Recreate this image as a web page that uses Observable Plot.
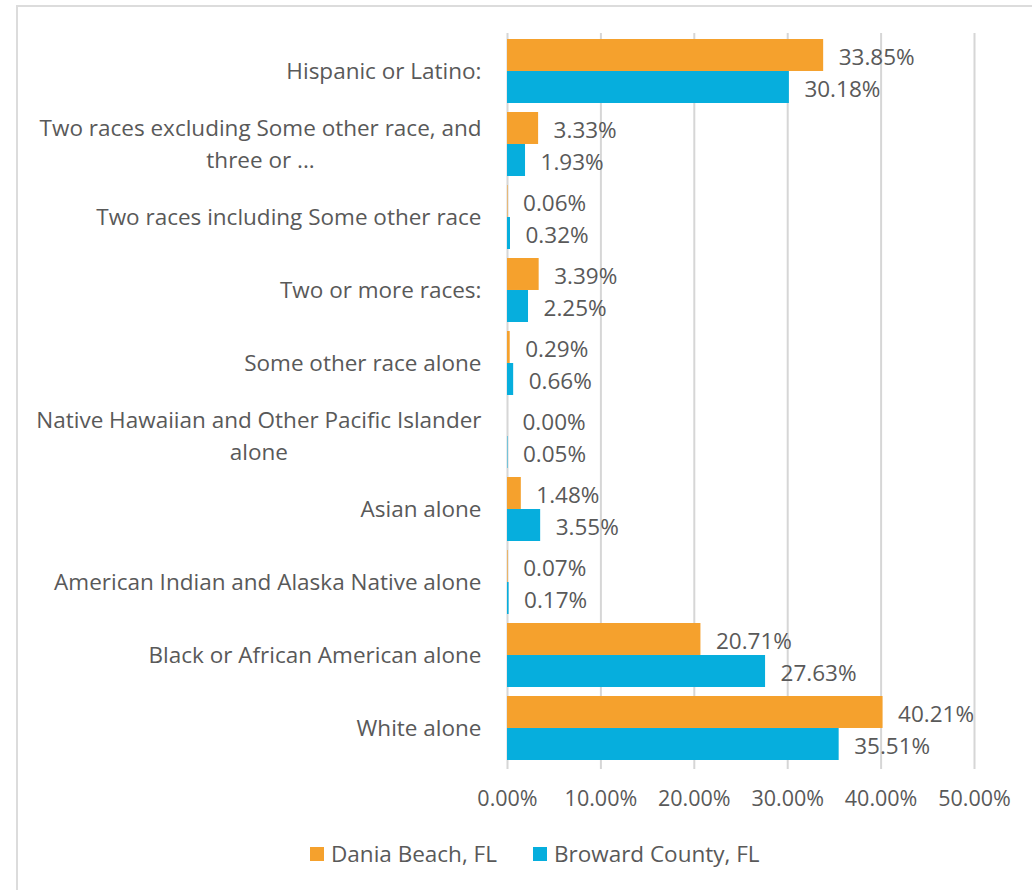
<!DOCTYPE html>
<html>
<head>
<meta charset="utf-8">
<script src="https://cdn.jsdelivr.net/npm/d3@7"></script>
<script src="https://cdn.jsdelivr.net/npm/@observablehq/plot@0.6"></script>
<style>
  html, body { margin: 0; padding: 0; background: #fff; }
  #wrap { position: relative; width: 1032px; height: 890px; overflow: hidden; font-family: "Open Sans", sans-serif; }
  #frame { position: absolute; left: 16px; top: 5px; width: 1100px; height: 1000px; border-left: 2px solid #dcdcdc; border-top: 2px solid #dcdcdc; box-sizing: border-box; }
  #chart { position: absolute; left: 0; top: 0; }
  #legend { position: absolute; left: 310px; top: 838px; display: flex; gap: 36px; font-size: 22.5px; color: #595959; }
  .item { display: flex; align-items: center; gap: 7px; }
  .sw { width: 14px; height: 14px; display: inline-block; }
</style>
</head>
<body>
<div id="wrap">
  <div id="frame"></div>
  <div id="chart"></div>
  <div id="legend"></div>
</div>
<script>
const categories = [
  "Hispanic or Latino:",
  "Two races excluding Some other race, and three or ...",
  "Two races including Some other race",
  "Two or more races:",
  "Some other race alone",
  "Native Hawaiian and Other Pacific Islander alone",
  "Asian alone",
  "American Indian and Alaska Native alone",
  "Black or African American alone",
  "White alone"
];
const categoryLabels = [
  "Hispanic or Latino:",
  "Two races excluding Some other race, and\nthree or ...",
  "Two races including Some other race",
  "Two or more races:",
  "Some other race alone",
  "Native Hawaiian and Other Pacific Islander\nalone",
  "Asian alone",
  "American Indian and Alaska Native alone",
  "Black or African American alone",
  "White alone"
];
const seriesNames = ["Dania Beach, FL", "Broward County, FL"];
const daniaBeach = [33.85, 3.33, 0.06, 3.39, 0.29, 0.00, 1.48, 0.07, 20.71, 40.21];
const browardCounty = [30.18, 1.93, 0.32, 2.25, 0.66, 0.05, 3.55, 0.17, 27.63, 35.51];
const seriesColors = ["#F5A12D", "#06AEDD"];
const xTicks = [0, 10, 20, 30, 40, 50];

const FONT = '"Open Sans", sans-serif';
const FS = 22.5;
const TICK_FS = 21.5;
const W = 1032, H = 815, ML = 507, MR = 58, MT = 29, MB = 46;
const PAD = 0.124;
const step = (H - MT - MB) / (categories.length + PAD);
const bw = step * (1 - PAD);
const half = bw / 2;

const rows = categories.map((c, i) => ({cat: c, dania: daniaBeach[i], broward: browardCounty[i]}));

const ctx = document.createElement("canvas").getContext("2d");
ctx.font = `${FS}px ${FONT}`;
const labelGap = 26;

const labelMarks = categories.map((c, i) => {
  const lines = categoryLabels[i].split("\n");
  const w = Math.max(...lines.map(l => ctx.measureText(l).width));
  return Plot.text([c], {
    y: d => d,
    text: () => categoryLabels[i],
    frameAnchor: "left",
    textAnchor: "middle",
    dx: -(labelGap + w / 2),
    dy: -3,
    lineHeight: 1.42,
    fill: "#595959",
    fontSize: FS
  });
});

const fmt = v => v.toFixed(2) + "%";

const chart = Plot.plot({
  width: W, height: H,
  marginLeft: ML, marginRight: MR, marginTop: MT, marginBottom: MB,
  style: {fontFamily: FONT, fontSize: FS + "px", color: "#595959", background: "transparent", overflow: "visible"},
  x: {domain: [0, 50], label: null},
  y: {domain: categories, padding: PAD, axis: null},
  marks: [
    Plot.ruleX(xTicks, {stroke: "#d6d6d6", strokeWidth: 2, insetTop: 4}),
    Plot.axisX(xTicks, {tickSize: 0, tickPadding: 21, tickFormat: fmt, fill: "#595959", fontSize: TICK_FS, label: null}),
    Plot.barX(rows, {x: "dania", y: "cat", fill: seriesColors[0], insetBottom: half, insetTop: 0}),
    Plot.barX(rows, {x: "broward", y: "cat", fill: seriesColors[1], insetTop: half, insetBottom: 0}),
    Plot.text(rows, {x: "dania", y: "cat", text: d => fmt(d.dania), dy: -half / 2 + 2, dx: 15, textAnchor: "start", fill: "#595959", fontSize: FS}),
    Plot.text(rows, {x: "broward", y: "cat", text: d => fmt(d.broward), dy: half / 2 + 2, dx: 15, textAnchor: "start", fill: "#595959", fontSize: FS}),
    ...labelMarks
  ]
});
document.getElementById("chart").appendChild(chart);

const legend = document.getElementById("legend");
seriesNames.forEach((s, i) => {
  const it = document.createElement("div");
  it.className = "item";
  const sw = document.createElement("span");
  sw.className = "sw";
  sw.style.background = seriesColors[i];
  const t = document.createElement("span");
  t.textContent = s;
  it.appendChild(sw); it.appendChild(t);
  legend.appendChild(it);
});
</script>
</body>
</html>
